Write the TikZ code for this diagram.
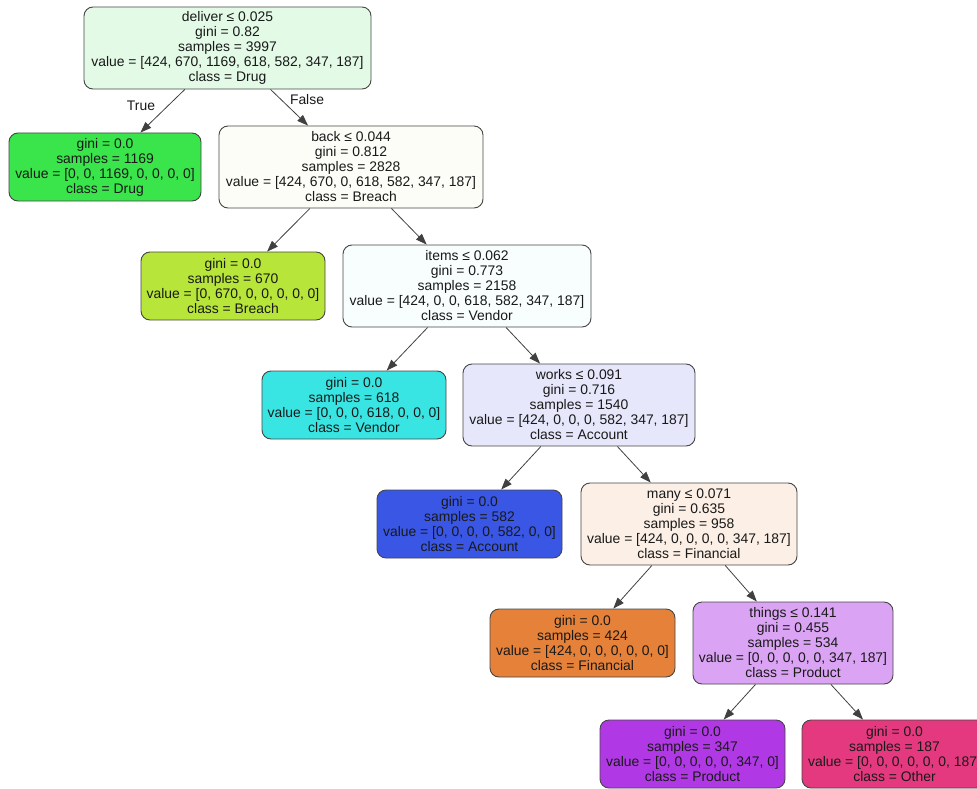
\documentclass[tikz,border=0pt]{standalone}
\usepackage{fontspec}
\setmainfont{Liberation Sans}
\usetikzlibrary{arrows.meta}
\definecolor{cRoot}{RGB}{227,251,230}
\definecolor{cDrug}{RGB}{57,229,75}
\definecolor{cBack}{RGB}{253,253,248}
\definecolor{cBreach}{RGB}{183,229,57}
\definecolor{cItems}{RGB}{248,253,254}
\definecolor{cVendor}{RGB}{57,229,226}
\definecolor{cWorks}{RGB}{230,231,251}
\definecolor{cAccount}{RGB}{57,86,229}
\definecolor{cMany}{RGB}{252,239,229}
\definecolor{cFinancial}{RGB}{229,129,57}
\definecolor{cThings}{RGB}{219,163,243}
\definecolor{cProduct}{RGB}{177,57,229}
\definecolor{cOther}{RGB}{229,57,127}
\definecolor{cBorder}{RGB}{70,70,70}
\tikzset{
  tn/.style={draw=cBorder, line width=0.9pt, rounded corners=9pt, align=center,
    inner sep=0pt, font=\fontsize{13.9}{15}\selectfont, text=black!90},
  leaf/.style={tn, minimum height=68pt},
  split/.style={tn, minimum height=82pt},
  edge/.style={draw=black!75, line width=0.8pt, -{Triangle[length=11pt,width=8pt]}},
  elabel/.style={font=\fontsize{13.9}{15}\selectfont, text=black!90}
}
\begin{document}
\begin{tikzpicture}[x=1pt,y=-1pt]
\useasboundingbox (0,0) rectangle (977,789);
\clip (0,0) rectangle (977,789);
\node[split, fill=cRoot, minimum width=287pt] (root) at (227.5,48)
  {deliver ≤ 0.025\\gini = 0.82\\samples = 3997\\value = [424, 670, 1169, 618, 582, 347, 187]\\class = Drug};
\node[leaf, fill=cDrug, minimum width=192pt] (drug) at (105,167)
  {gini = 0.0\\samples = 1169\\value = [0, 0, 1169, 0, 0, 0, 0]\\class = Drug};
\node[split, fill=cBack, minimum width=264pt] (back) at (351,167)
  {back ≤ 0.044\\gini = 0.812\\samples = 2828\\value = [424, 670, 0, 618, 582, 347, 187]\\class = Breach};
\node[leaf, fill=cBreach, minimum width=184pt] (breach) at (233,286)
  {gini = 0.0\\samples = 670\\value = [0, 670, 0, 0, 0, 0, 0]\\class = Breach};
\node[split, fill=cItems, minimum width=248pt] (items) at (467,286)
  {items ≤ 0.062\\gini = 0.773\\samples = 2158\\value = [424, 0, 0, 618, 582, 347, 187]\\class = Vendor};
\node[leaf, fill=cVendor, minimum width=184pt] (vendor) at (354,405)
  {gini = 0.0\\samples = 618\\value = [0, 0, 0, 618, 0, 0, 0]\\class = Vendor};
\node[split, fill=cWorks, minimum width=232pt] (works) at (579,405)
  {works ≤ 0.091\\gini = 0.716\\samples = 1540\\value = [424, 0, 0, 0, 582, 347, 187]\\class = Account};
\node[leaf, fill=cAccount, minimum width=185pt] (account) at (469.5,524)
  {gini = 0.0\\samples = 582\\value = [0, 0, 0, 0, 582, 0, 0]\\class = Account};
\node[split, fill=cMany, minimum width=216pt] (many) at (689,524)
  {many ≤ 0.071\\gini = 0.635\\samples = 958\\value = [424, 0, 0, 0, 0, 347, 187]\\class = Financial};
\node[leaf, fill=cFinancial, minimum width=185pt] (financial) at (582.5,643)
  {gini = 0.0\\samples = 424\\value = [424, 0, 0, 0, 0, 0, 0]\\class = Financial};
\node[split, fill=cThings, minimum width=200pt] (things) at (793,643)
  {things ≤ 0.141\\gini = 0.455\\samples = 534\\value = [0, 0, 0, 0, 0, 347, 187]\\class = Product};
\node[leaf, fill=cProduct, minimum width=185pt] (product) at (692.5,754)
  {gini = 0.0\\samples = 347\\value = [0, 0, 0, 0, 0, 347, 0]\\class = Product};
\node[leaf, fill=cOther, minimum width=185pt] (other) at (894.5,754)
  {gini = 0.0\\samples = 187\\value = [0, 0, 0, 0, 0, 0, 187]\\class = Other};
\draw[edge] (root) -- (drug);
\draw[edge] (root) -- (back);
\draw[edge] (back) -- (breach);
\draw[edge] (back) -- (items);
\draw[edge] (items) -- (vendor);
\draw[edge] (items) -- (works);
\draw[edge] (works) -- (account);
\draw[edge] (works) -- (many);
\draw[edge] (many) -- (financial);
\draw[edge] (many) -- (things);
\draw[edge] (things) -- (product);
\draw[edge] (things) -- (other);
\node[elabel] (ltrue) at (141,106) {True};
\node[elabel] (lfalse) at (307,100) {False};
\end{tikzpicture}
\end{document}
